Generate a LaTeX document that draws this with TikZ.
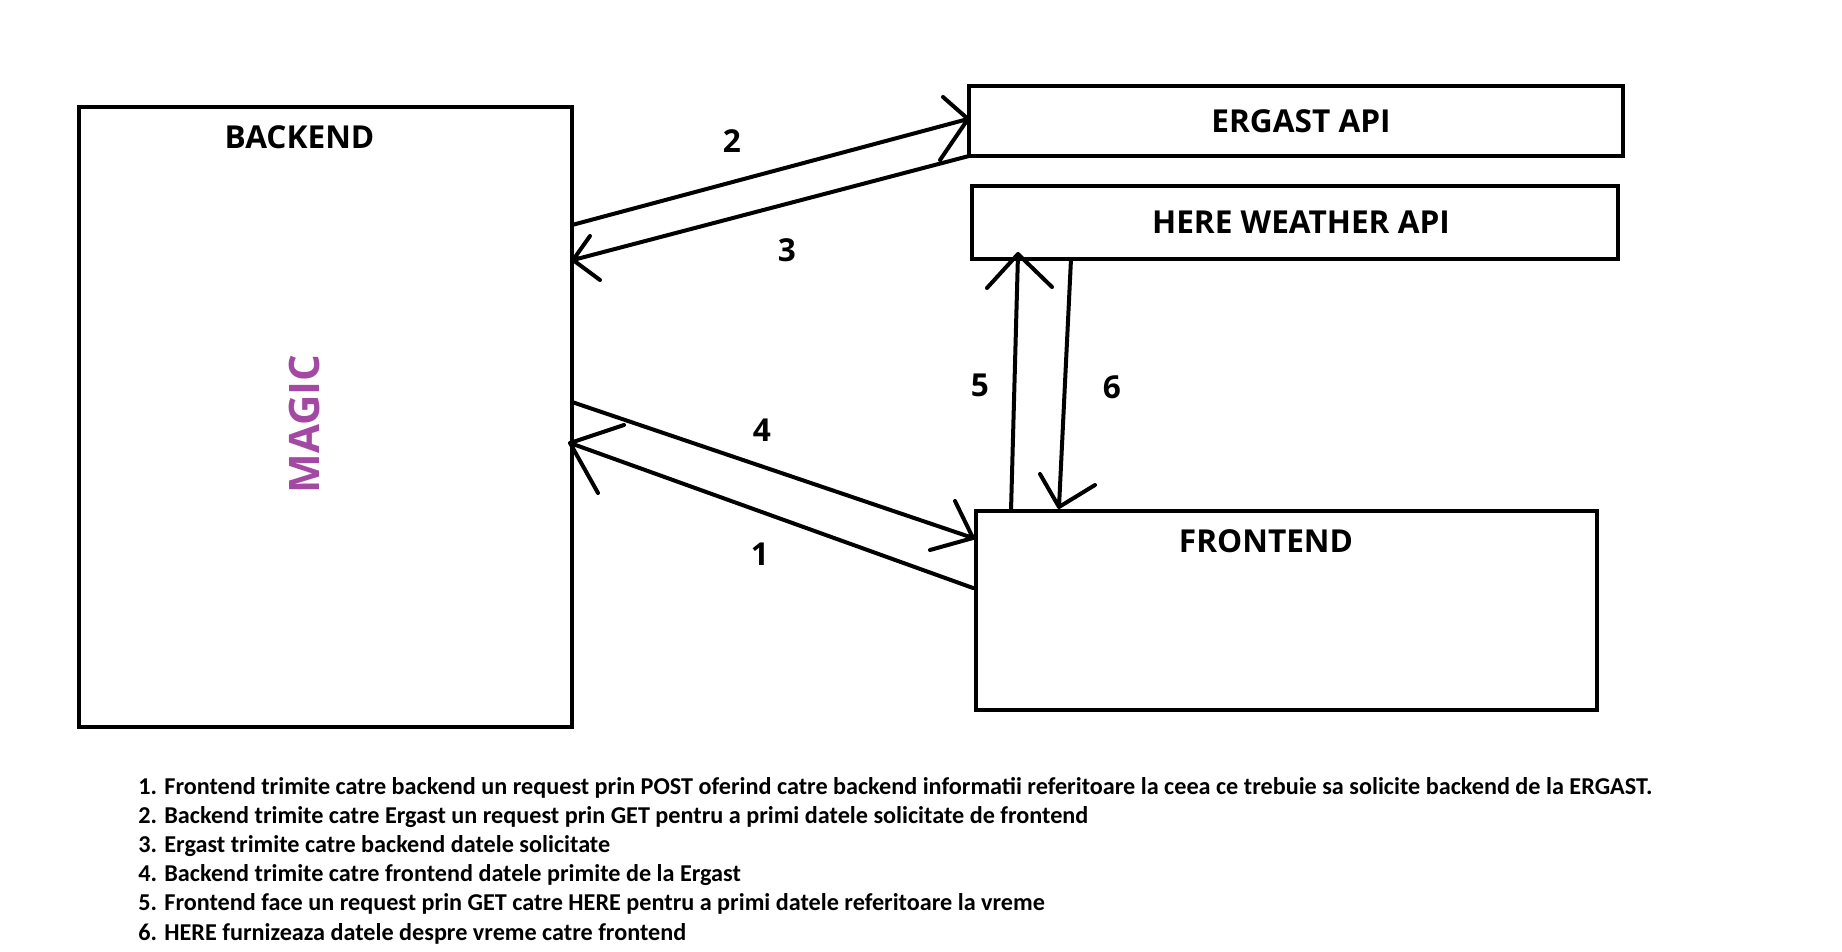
\documentclass[tikz,border=0pt]{standalone}
\usepackage{fontspec}
\setmainfont{Open Sans}
\newfontfamily\legendfont{Carlito}
\usetikzlibrary{fit}
\definecolor{magicpurple}{HTML}{A349A4}
\begin{document}
\begin{tikzpicture}[x=0.5pt,y=-0.5pt,
  box/.style={draw=black, line width=2pt, inner sep=0pt},
  lbl/.style={font=\fontsize{15.8}{18}\selectfont\bfseries, inner sep=0pt},
  legend/.style={font=\legendfont\fontsize{12.1}{14}\selectfont\bfseries, anchor=base west, inner sep=0pt},
  conn/.style={line width=2pt, line cap=round, line join=round}]
\useasboundingbox (0,0) rectangle (1842,952);
% boxes
\node[box, fit={(79,107) (572,727)}] (backend) {};
\node[box, fit={(969,86) (1623,156)}] (ergast) {};
\node[box, fit={(972,186) (1618,259)}] (here) {};
\node[box, fit={(976,511) (1597,710)}] (frontend) {};
% box labels
\node[lbl] (tbackend) at (299.5,137) {BACKEND};
\node[lbl] (tergast) at (1301,121.5) {ERGAST API};
\node[lbl] (there) at (1301,222) {HERE WEATHER API};
\node[lbl] (tfrontend) at (1266,541) {FRONTEND};
\node[font=\fontsize{21}{24}\selectfont\bfseries, text=magicpurple, rotate=90, inner sep=0pt] (magic) at (304,424) {MAGIC};
% connector end points
\coordinate (a2s) at (572,225); \coordinate (a2t) at (968,119);
\coordinate (a3s) at (969,156); \coordinate (a3t) at (573,260);
\coordinate (a4s) at (572,402); \coordinate (a4t) at (973,538);
\coordinate (a1s) at (973,588); \coordinate (a1t) at (570,443);
\coordinate (a5s) at (1011,511); \coordinate (a5t) at (1018,254);
\coordinate (a6s) at (1071,259); \coordinate (a6t) at (1059,507);
% connectors with hand-drawn open heads
\draw[conn] (a2s) -- (a2t) -- (943,97) (a2t) -- (940,160);
\draw[conn] (a3s) -- (a3t) -- (590,236) (a3t) -- (600,280);
\draw[conn] (a4s) -- (a4t) -- (955,501) (a4t) -- (930,550);
\draw[conn] (a1s) -- (a1t) -- (624,425) (a1t) -- (598,493);
\draw[conn] (a5s) -- (a5t) -- (987,288) (a5t) -- (1052,287);
\draw[conn] (a6s) -- (a6t) -- (1040,474) (a6t) -- (1095,485);
% connector numbers
\node[lbl] (n2) at (732,141) {2};
\node[lbl] (n3) at (787,250) {3};
\node[lbl] (n4) at (762,430) {4};
\node[lbl] (n1) at (760,554) {1};
\node[lbl] (n5) at (980,385) {5};
\node[lbl] (n6) at (1112,387) {6};
% legend
\node[legend] (l1) at (138,794) {1. Frontend trimite catre backend un request prin POST oferind catre backend informatii referitoare la ceea ce trebuie sa solicite backend de la ERGAST.};
\node[legend] (l2) at (138,823.2) {2. Backend trimite catre Ergast un request prin GET pentru a primi datele solicitate de frontend};
\node[legend] (l3) at (138,852.4) {3. Ergast trimite catre backend datele solicitate};
\node[legend] (l4) at (138,881.6) {4. Backend trimite catre frontend datele primite de la Ergast};
\node[legend] (l5) at (138,910.8) {5. Frontend face un request prin GET catre HERE pentru a primi datele referitoare la vreme};
\node[legend] (l6) at (138,940) {6. HERE furnizeaza datele despre vreme catre frontend};
\end{tikzpicture}
\end{document}
